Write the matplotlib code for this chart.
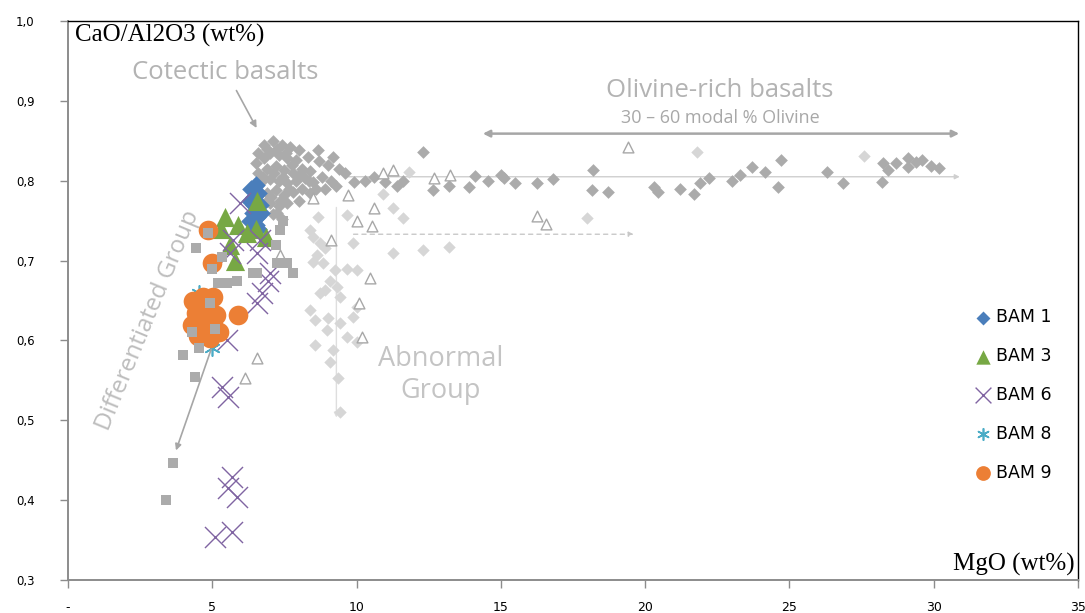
import matplotlib
matplotlib.use('Agg')
import matplotlib.pyplot as plt
import numpy as np

# literature compilation (grey background symbols)
cotectic_mgo = [6.6, 6.8, 7.1, 7.4, 7.7, 8.0, 6.5, 6.8, 7.0, 7.3, 7.6, 7.9, 8.3, 8.7,
                6.6, 6.9, 7.2, 7.5, 7.8, 8.1, 8.4, 9.0, 9.4, 6.7, 7.0, 7.3, 7.6, 7.9,
                8.2, 8.5, 8.8, 9.1, 9.6, 9.9, 6.9, 7.2, 7.5, 7.8, 8.1, 8.4, 8.9, 9.3,
                7.0, 7.3, 7.6, 7.1, 7.4, 6.9, 7.25, 7.55, 6.75, 7.15, 7.45, 7.75, 8.05,
                8.35, 8.6, 7.05, 7.35, 7.65, 8.0, 7.25, 6.9, 8.65, 9.2,
                10.3, 10.6, 11.0, 11.4, 11.6, 12.3, 12.65,
                13.2, 13.9, 14.1, 14.55, 15.0, 15.1, 15.5, 16.25, 16.8, 18.2, 18.15,
                18.7, 20.3, 20.45, 21.2, 21.7, 21.9, 22.2, 23.0, 23.3, 23.7, 24.15,
                24.7, 24.6, 26.3, 26.85, 28.2, 28.25, 28.4, 28.7, 29.1, 29.1, 29.4,
                29.6, 29.9, 30.2]
cotectic_ratio = [0.835, 0.845, 0.85, 0.845, 0.842, 0.838, 0.822, 0.828, 0.835, 0.832,
                  0.828, 0.826, 0.83, 0.825, 0.81, 0.815, 0.818, 0.814, 0.81, 0.815,
                  0.812, 0.82, 0.815, 0.798, 0.802, 0.80, 0.797, 0.80, 0.803, 0.798,
                  0.805, 0.80, 0.81, 0.798, 0.785, 0.788, 0.782, 0.786, 0.79, 0.785,
                  0.79, 0.793, 0.772, 0.768, 0.772, 0.758, 0.752, 0.84, 0.84, 0.835,
                  0.805, 0.81, 0.805, 0.82, 0.808, 0.80, 0.79, 0.78, 0.775, 0.79,
                  0.775, 0.76, 0.775, 0.838, 0.83,
                  0.80, 0.805, 0.798,
                  0.794, 0.80, 0.836, 0.788, 0.793, 0.792, 0.806, 0.80, 0.807, 0.803,
                  0.797, 0.797, 0.802, 0.813, 0.789, 0.786, 0.792, 0.786, 0.79, 0.784,
                  0.797, 0.804, 0.80, 0.807, 0.817, 0.811, 0.826, 0.792, 0.811, 0.797,
                  0.798, 0.822, 0.813, 0.822, 0.828, 0.817, 0.823, 0.826, 0.819, 0.816]

abnormal_mgo = [8.66, 9.67, 8.4, 8.5, 8.73, 8.9, 8.63, 8.5, 8.85, 9.25, 9.67, 10.0, 9.08,
                9.32, 8.9, 8.73, 9.42, 8.4, 8.56, 9.0, 9.42, 9.87, 8.97, 9.67, 10.0, 8.56,
                9.18, 9.35, 10.0, 11.26, 12.3, 11.6, 9.87, 11.26, 10.9, 11.8, 13.2, 18.0,
                21.8, 27.6, 9.08, 9.42]
abnormal_ratio = [0.754, 0.757, 0.738, 0.73, 0.722, 0.716, 0.707, 0.698, 0.697, 0.688,
                  0.69, 0.688, 0.675, 0.667, 0.663, 0.659, 0.654, 0.638, 0.625, 0.628,
                  0.622, 0.629, 0.613, 0.604, 0.598, 0.594, 0.588, 0.553, 0.642, 0.709,
                  0.713, 0.753, 0.722, 0.766, 0.784, 0.811, 0.717, 0.753, 0.836, 0.831,
                  0.573, 0.51]

tri_mgo = [19.4, 16.25, 16.55, 12.7, 13.25, 10.9, 11.25, 9.7, 8.5, 10.6, 10.0, 10.55,
           9.1, 10.45, 10.1, 10.2, 6.55, 6.13, 7.35]
tri_ratio = [0.842, 0.756, 0.746, 0.804, 0.807, 0.81, 0.813, 0.782, 0.779, 0.766, 0.75,
             0.743, 0.726, 0.678, 0.647, 0.604, 0.578, 0.553, 0.707]

diff_mgo = [3.4, 3.65, 4.0, 4.4, 4.55, 4.45, 4.85, 5.0, 5.35, 5.2, 5.5, 5.85, 6.4, 6.55,
            7.25, 7.6, 7.8, 7.35, 7.45, 7.2, 4.92, 5.09, 4.3]
diff_ratio = [0.40, 0.446, 0.582, 0.554, 0.59, 0.716, 0.735, 0.69, 0.704, 0.672, 0.672,
              0.675, 0.684, 0.684, 0.697, 0.697, 0.684, 0.738, 0.75, 0.72, 0.647, 0.614,
              0.61]

# BAM samples
bam1_mgo = [6.35, 6.5, 6.6, 6.3, 6.45, 6.65, 6.4, 6.55, 6.7, 6.3, 6.5, 6.45, 6.6]
bam1_ratio = [0.79, 0.795, 0.785, 0.775, 0.77, 0.77, 0.76, 0.755, 0.76, 0.75, 0.745, 0.78, 0.74]

bam3_mgo = [5.45, 5.9, 6.5, 6.85, 5.6, 5.8, 6.55, 5.3, 6.2]
bam3_ratio = [0.755, 0.745, 0.74, 0.73, 0.72, 0.70, 0.775, 0.74, 0.735]

bam6_mgo = [5.68, 5.54, 5.86, 5.09, 5.68, 5.34, 5.54, 5.51, 6.55, 6.93, 6.72, 5.96,
            5.72, 6.65, 6.55, 5.61, 7.0]
bam6_ratio = [0.429, 0.415, 0.404, 0.354, 0.36, 0.542, 0.529, 0.60, 0.647, 0.675, 0.66,
              0.772, 0.726, 0.726, 0.709, 0.709, 0.684]

bam8_mgo = [4.55, 4.8, 4.95, 5.0]
bam8_ratio = [0.66, 0.655, 0.60, 0.59]

bam9_mgo = [4.85, 4.99, 5.89, 4.33, 4.68, 5.02, 4.44, 4.85, 4.30, 4.64, 5.02, 4.50,
            4.92, 5.23, 5.13]
bam9_ratio = [0.738, 0.697, 0.632, 0.650, 0.655, 0.654, 0.635, 0.638, 0.619, 0.623,
              0.619, 0.605, 0.603, 0.610, 0.632]

x_ticks = [0, 5, 10, 15, 20, 25, 30, 35]
x_tick_labels = ['-', '5', '10', '15', '20', '25', '30', '35']
y_ticks = [0.3, 0.4, 0.5, 0.6, 0.7, 0.8, 0.9, 1.0]
y_tick_labels = ['0,3', '0,4', '0,5', '0,6', '0,7', '0,8', '0,9', '1,0']

fig = plt.figure(figsize=(10.85, 6.13), dpi=100)
ax = fig.add_axes([0.0627, 0.0538, 0.9308, 0.9119])

dark = '#ababab'
light = '#d6d6d6'
ax.scatter(abnormal_mgo, abnormal_ratio, marker='D', s=40, color=light, lw=0, zorder=2)
ax.scatter(cotectic_mgo, cotectic_ratio, marker='D', s=42, color=dark, lw=0, zorder=3)
ax.scatter(tri_mgo, tri_ratio, marker='^', s=60, facecolor='white', edgecolor='#a8a8a8',
           lw=1.0, zorder=3)

ax.scatter(bam1_mgo, bam1_ratio, marker='D', s=90, color='#4a7ebb', lw=0, zorder=4, label='BAM 1')
ax.scatter(bam3_mgo, bam3_ratio, marker='^', s=190, color='#77a844', lw=0, zorder=5, label='BAM 3')
ax.scatter(bam6_mgo, bam6_ratio, marker='x', s=230, color='#8064a2', lw=1.0, zorder=6, label='BAM 6')
ax.scatter(bam8_mgo, bam8_ratio, marker=(6, 2, 0), s=120, color='#4bacc6', lw=1.2, zorder=6, label='BAM 8')
ax.scatter(bam9_mgo, bam9_ratio, marker='o', s=200, color='#ec7f35', lw=0, zorder=7, label='BAM 9')

ax.scatter(diff_mgo, diff_ratio, marker='s', s=45, color=dark, lw=0, zorder=8)

# trend lines and arrows
arrow_grey = '#a6a6a6'
ax.annotate('', xy=(6.58, 0.863), xytext=(5.79, 0.916),
            arrowprops=dict(arrowstyle='-|>', color=arrow_grey, lw=1.2, mutation_scale=10), zorder=9)
ax.annotate('', xy=(3.71, 0.459), xytext=(4.99, 0.592),
            arrowprops=dict(arrowstyle='-|>', color=arrow_grey, lw=1.2, mutation_scale=9), zorder=9)
ax.annotate('', xy=(30.98, 0.859), xytext=(14.28, 0.859),
            arrowprops=dict(arrowstyle='<|-|>', color=arrow_grey, lw=1.8, mutation_scale=10), zorder=9)
ax.annotate('', xy=(31.0, 0.805), xytext=(9.5, 0.805),
            arrowprops=dict(arrowstyle='-|>', color='#cfcfcf', lw=1.0, mutation_scale=7), zorder=1)
ax.annotate('', xy=(19.7, 0.733), xytext=(9.8, 0.733),
            arrowprops=dict(arrowstyle='-|>', color='#c8c8c8', lw=1.0, ls=(0, (3, 3)),
                            mutation_scale=7), zorder=1)
ax.annotate('', xy=(9.3, 0.50), xytext=(9.3, 0.77),
            arrowprops=dict(arrowstyle='-|>', color='#dedede', lw=1.0, mutation_scale=7), zorder=1)

label_font = 'Open Sans'
ax.text(5.44, 0.935, 'Cotectic basalts', fontsize=18.5, color='#b3b3b3', family=label_font,
        ha='center', va='center')
ax.text(22.6, 0.913, 'Olivine-rich basalts', fontsize=18.5, color='#b3b3b3', family=label_font,
        ha='center', va='center')
ax.text(22.6, 0.879, '30 – 60 modal % Olivine', fontsize=13, color='#a8a8a8', family=label_font,
        ha='center', va='center')
ax.text(12.9, 0.557, 'Abnormal\nGroup', fontsize=19.5, color='#c4c4c4', family=label_font,
        ha='center', va='center', linespacing=1.2)
ax.text(2.77, 0.625, 'Differentiated Group', fontsize=17.5, color='#bdbdbd', family=label_font,
        ha='center', va='center', rotation=67.5, rotation_mode='anchor')

ax.text(0.24, 0.997, 'CaO/Al2O3 (wt%)', fontsize=18, family='Liberation Serif',
        ha='left', va='top')
ax.text(34.9, 0.305, 'MgO (wt%)', fontsize=18, family='Liberation Serif',
        ha='right', va='bottom')

ax.set_xlim(0, 35)
ax.set_ylim(0.3, 1.0)
ax.set_xticks(x_ticks)
ax.set_xticklabels(x_tick_labels)
ax.set_yticks(y_ticks)
ax.set_yticklabels(y_tick_labels)
ax.tick_params(axis='x', direction='out', length=6, width=1, color='#8c8c8c', pad=9,
               labelsize=9)
ax.tick_params(axis='y', direction='out', length=6, width=1, color='#8c8c8c', pad=18,
               labelsize=8.5)

for side in ['left', 'bottom']:
    ax.spines[side].set_color('#8c8c8c')
    ax.spines[side].set_linewidth(1.4)
for side in ['top', 'right']:
    ax.spines[side].set_color('black')
    ax.spines[side].set_linewidth(1.0)

leg = ax.legend(loc='center left', bbox_to_anchor=(0.891, 0.331), frameon=False,
                fontsize=12.5, labelspacing=1.2, handletextpad=0.2, handlelength=1.0,
                markerscale=0.75, borderaxespad=0)

fig.savefig('out.png', dpi=100)
